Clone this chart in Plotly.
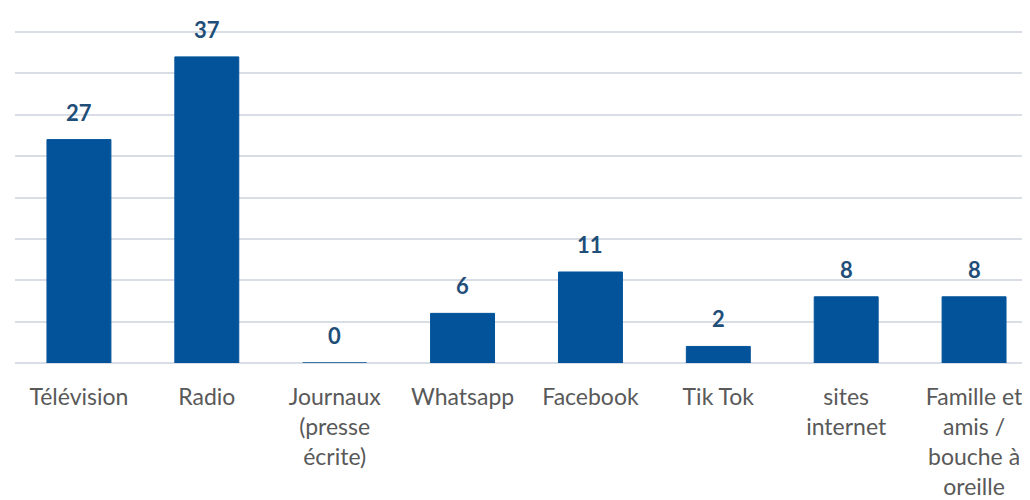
import plotly.graph_objects as go

# categories and counts
categories = ["Télévision", "Radio", "Journaux<br>(presse<br>écrite)", "Whatsapp",
              "Facebook", "Tik Tok", "sites<br>internet",
              "Famille et<br>amis /<br>bouche à<br>oreille"]
values = [27, 37, 0, 6, 11, 2, 8, 8]

bar_color = "#03539A"
label_color = "#1F4E79"

fig = go.Figure()
fig.add_trace(go.Bar(
    x=list(range(len(categories))),
    y=values,
    width=0.5,
    marker=dict(color=bar_color, line=dict(color=bar_color, width=1)),
    hoverinfo="skip",
))

# value labels above the bars
for i, v in enumerate(values):
    fig.add_annotation(
        x=i, y=v, text=f"<b>{v}</b>", showarrow=False,
        yanchor="bottom", yshift=12,
        font=dict(family="Lato", size=22, color=label_color),
    )

# page body has an 8px margin, so the figure margins are trimmed by that much
fig.update_layout(
    width=1030, height=500,
    margin=dict(l=7, r=0, t=22, b=145),
    plot_bgcolor="white", paper_bgcolor="white",
    showlegend=False,
    font=dict(family="Lato", size=23, color="#595959"),
)
fig.update_xaxes(
    tickmode="array", tickvals=list(range(len(categories))), ticktext=categories,
    range=[-0.5, 7.5], showgrid=False, zeroline=False, showline=False,
    ticks="", ticklabelstandoff=18,
)
fig.update_yaxes(
    range=[0, 40.25], tickvals=[5, 10, 15, 20, 25, 30, 35, 40],
    showticklabels=False, gridcolor="#D9DEE6",
    gridwidth=1.5, zeroline=True, zerolinecolor="#D9DEE6", zerolinewidth=1.5,
)

fig.write_html("out.html")
